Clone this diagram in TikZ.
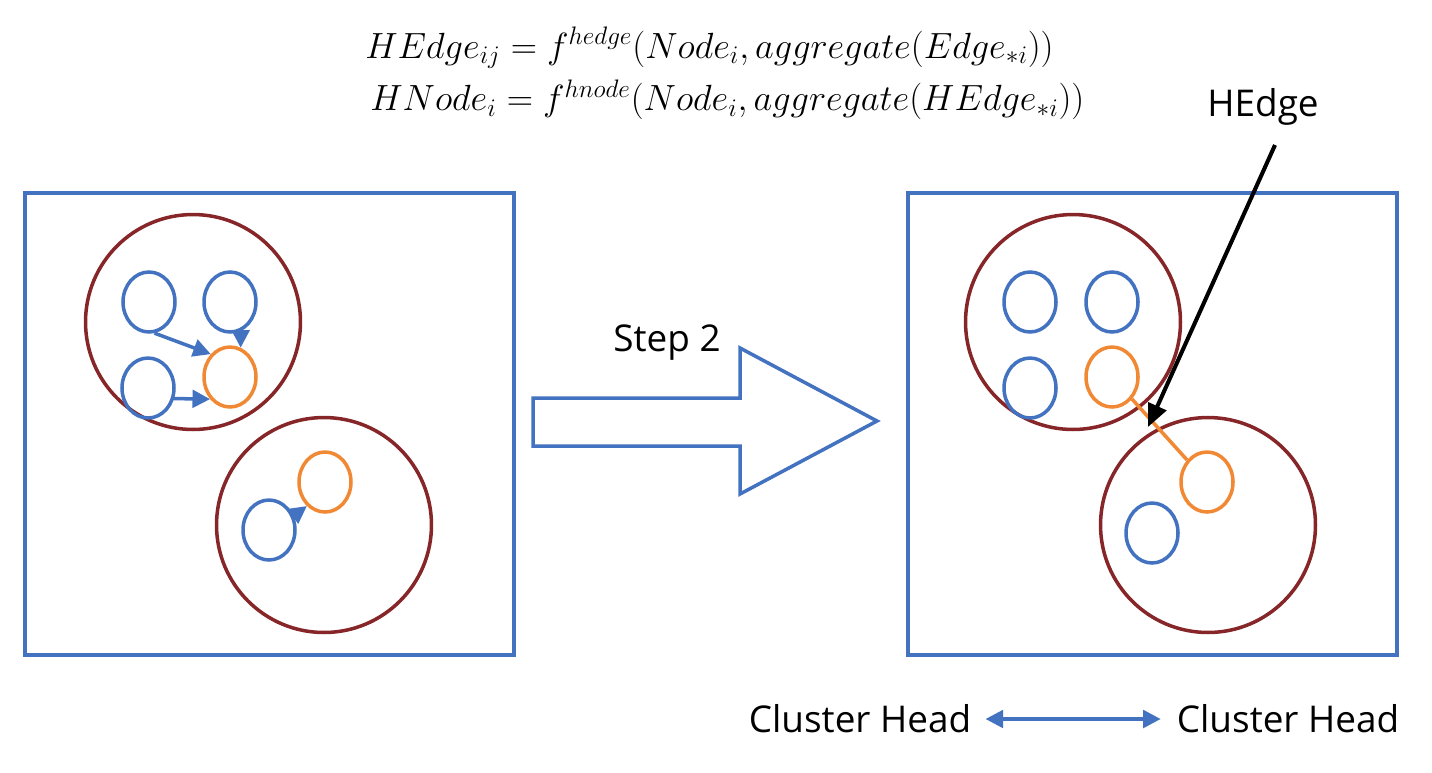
\documentclass[tikz,border=0pt]{standalone}
\usepackage{fontspec}
\setsansfont{Open Sans}
\usepackage{amsmath}
\usepackage{tikz}
\usetikzlibrary{arrows.meta, positioning, shapes.geometric}

\definecolor{cblue}{RGB}{66,114,192}
\definecolor{cred}{RGB}{134,38,40}
\definecolor{corange}{RGB}{240,136,52}

\begin{document}
\begin{tikzpicture}[
  x=0.02cm, y=-0.02cm,
  frame/.style={draw=cblue, line width=2pt},
  clus/.style={draw=cred, line width=2pt, circle, minimum size=4.3cm},
  mem/.style={draw=cblue, line width=2pt, ellipse, minimum width=1.04cm,
              minimum height=1.2cm, inner sep=0pt},
  head/.style={mem, draw=corange},
  arr/.style={-{Triangle[length=10pt, width=10pt]}, draw=cblue, line width=2pt},
  lbl/.style={font=\sffamily\fontsize{21}{25}\selectfont, inner sep=0pt},
  eqn/.style={font=\fontsize{21}{25}\selectfont, anchor=west, inner sep=0pt},
]
  \useasboundingbox (0,0) rectangle (1432,772);

  % formulas
  \node[eqn] (eq1) at (365,48)
    {$HEdge_{ij} = f^{hedge}(Node_i, aggregate(Edge_{*i}))$};
  \node[eqn] (eq2) at (370,100)
    {$HNode_i = f^{hnode}(Node_i, aggregate(HEdge_{*i}))$};

  % before
  \draw[frame] (25,193) rectangle (514,655);
  \node[clus] (c1) at (193,322) {};
  \node[clus] (c2) at (324,525) {};
  \node[mem]  (a1) at (149,302) {};
  \node[mem]  (a2) at (230,302) {};
  \node[mem]  (a3) at (148,388) {};
  \node[head] (h1) at (230,377) {};
  \node[mem]  (b1) at (269,530) {};
  \node[head] (h2) at (325,482) {};
  \draw[arr] (a1.-80) -- (h1.130);
  \draw[arr] (a2.-70) -- (h1.70);
  \draw[arr] (a3.-22) -- (h1.228);
  \draw[arr] (b1.30) -- (h2.233);

  % step
  \draw[frame, fill=white] (533,398) -- (740,398) -- (740,348) -- (877,421)
    -- (740,494) -- (740,446) -- (533,446) -- cycle;
  \node[lbl] (step) at (667,343) {Step 2};

  % after
  \draw[frame] (908,193) rectangle (1397,655);
  \node[clus] (c3) at (1073,322) {};
  \node[clus] (c4) at (1208,525) {};
  \node[mem]  (d1) at (1030,302) {};
  \node[mem]  (d2) at (1112,302) {};
  \node[mem]  (d3) at (1030,388) {};
  \node[head] (h3) at (1112,377) {};
  \node[mem]  (e1) at (1152,533) {};
  \node[head] (h4) at (1207,482) {};
  \draw[draw=corange, line width=2pt] (h3) -- (h4);

  \node[lbl] (hedge) at (1263,107) {HEdge};
  \coordinate (hstart) at (1275,145);
  \coordinate (htip) at (1148,427);
  \draw[-{Triangle[length=13pt, width=11pt]}, line width=2.3pt] (hstart) -- (htip);

  % legend
  \node[lbl] (chl) at (860,719) {Cluster Head};
  \node[lbl] (chr) at (1288,719) {Cluster Head};
  \draw[{Triangle[length=10pt, width=10pt]}-{Triangle[length=10pt, width=10pt]},
        draw=cblue, fill=cblue, line width=2pt]
    ([xshift=8pt]chl.east) -- ([xshift=-9pt]chr.west);
\end{tikzpicture}
\end{document}
